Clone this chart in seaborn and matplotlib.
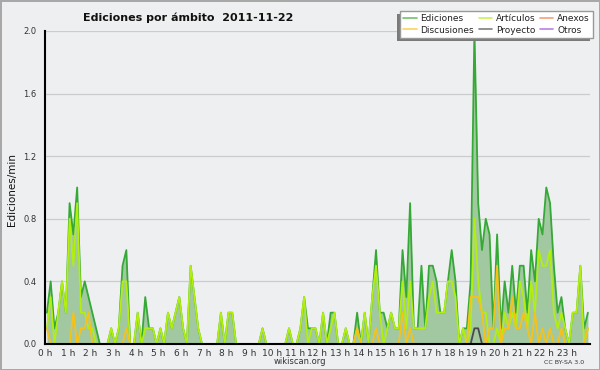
import numpy as np
import pandas as pd
import matplotlib
matplotlib.use("Agg")
import matplotlib.pyplot as plt
import seaborn as sns
from matplotlib.lines import Line2D
from matplotlib.patches import Rectangle
from matplotlib.ticker import MultipleLocator

# ediciones por minuto, bloques de 10 minutos (6 por hora)
ediciones = [
    0.2, 0.4, 0.1, 0.2, 0.4, 0.2,   # 0 h
    0.9, 0.7, 1.0, 0.3, 0.4, 0.3,   # 1 h
    0.2, 0.1, 0.0, 0.0, 0.0, 0.1,   # 2 h
    0.0, 0.1, 0.5, 0.6, 0.0, 0.0,   # 3 h
    0.2, 0.0, 0.3, 0.1, 0.1, 0.0,   # 4 h
    0.1, 0.0, 0.2, 0.1, 0.2, 0.3,   # 5 h
    0.1, 0.0, 0.5, 0.3, 0.1, 0.0,   # 6 h
    0.0, 0.0, 0.0, 0.0, 0.2, 0.0,   # 7 h
    0.2, 0.2, 0.0, 0.0, 0.0, 0.0,   # 8 h
    0.0, 0.0, 0.0, 0.1, 0.0, 0.0,   # 9 h
    0.0, 0.0, 0.0, 0.0, 0.1, 0.0,   # 10 h
    0.0, 0.1, 0.3, 0.1, 0.1, 0.1,   # 11 h
    0.0, 0.2, 0.0, 0.2, 0.2, 0.0,   # 12 h
    0.0, 0.1, 0.0, 0.0, 0.2, 0.0,   # 13 h
    0.2, 0.0, 0.3, 0.6, 0.2, 0.2,   # 14 h
    0.1, 0.2, 0.1, 0.1, 0.6, 0.3,   # 15 h
    0.9, 0.1, 0.1, 0.5, 0.1, 0.5,   # 16 h
    0.5, 0.4, 0.2, 0.2, 0.4, 0.6,   # 17 h
    0.4, 0.0, 0.1, 0.1, 0.4, 2.0,   # 18 h
    0.9, 0.6, 0.8, 0.7, 0.1, 0.7,   # 19 h
    0.1, 0.4, 0.2, 0.5, 0.2, 0.5,   # 20 h
    0.5, 0.2, 0.6, 0.4, 0.8, 0.7,   # 21 h
    1.0, 0.9, 0.5, 0.2, 0.3, 0.1,   # 22 h
    0.0, 0.2, 0.2, 0.5, 0.1, 0.2,   # 23 h
]
articulos = [
    0.1, 0.3, 0.0, 0.2, 0.4, 0.2,
    0.8, 0.5, 0.9, 0.2, 0.2, 0.1,
    0.1, 0.0, 0.0, 0.0, 0.0, 0.1,
    0.0, 0.1, 0.4, 0.4, 0.0, 0.0,
    0.2, 0.0, 0.1, 0.1, 0.1, 0.0,
    0.1, 0.0, 0.2, 0.1, 0.2, 0.3,
    0.1, 0.0, 0.5, 0.3, 0.1, 0.0,
    0.0, 0.0, 0.0, 0.0, 0.2, 0.0,
    0.2, 0.2, 0.0, 0.0, 0.0, 0.0,
    0.0, 0.0, 0.0, 0.1, 0.0, 0.0,
    0.0, 0.0, 0.0, 0.0, 0.1, 0.0,
    0.0, 0.1, 0.3, 0.0, 0.1, 0.1,
    0.0, 0.2, 0.0, 0.1, 0.2, 0.0,
    0.0, 0.1, 0.0, 0.0, 0.1, 0.0,
    0.2, 0.0, 0.3, 0.5, 0.2, 0.0,
    0.1, 0.2, 0.1, 0.1, 0.4, 0.1,
    0.4, 0.1, 0.1, 0.1, 0.1, 0.3,
    0.4, 0.2, 0.2, 0.2, 0.4, 0.4,
    0.3, 0.0, 0.1, 0.0, 0.1, 0.8,
    0.4, 0.2, 0.2, 0.0, 0.0, 0.1,
    0.0, 0.2, 0.1, 0.2, 0.1, 0.4,
    0.3, 0.1, 0.4, 0.2, 0.6, 0.5,
    0.5, 0.6, 0.2, 0.1, 0.2, 0.1,
    0.0, 0.2, 0.2, 0.5, 0.0, 0.1,
]
discusiones = [
    0.1, 0.0, 0.0, 0.0, 0.0, 0.0,
    0.0, 0.2, 0.0, 0.1, 0.1, 0.2,
    0.0, 0.0, 0.0, 0.0, 0.0, 0.0,
    0.0, 0.0, 0.0, 0.1, 0.0, 0.0,
    0.0, 0.0, 0.0, 0.0, 0.0, 0.0,
    0.0, 0.0, 0.0, 0.0, 0.0, 0.0,
    0.0, 0.0, 0.0, 0.0, 0.0, 0.0,
    0.0, 0.0, 0.0, 0.0, 0.0, 0.0,
    0.0, 0.0, 0.0, 0.0, 0.0, 0.0,
    0.0, 0.0, 0.0, 0.0, 0.0, 0.0,
    0.0, 0.0, 0.0, 0.0, 0.0, 0.0,
    0.0, 0.0, 0.0, 0.0, 0.0, 0.0,
    0.0, 0.0, 0.0, 0.0, 0.0, 0.0,
    0.0, 0.0, 0.0, 0.0, 0.1, 0.0,
    0.0, 0.0, 0.0, 0.1, 0.0, 0.0,
    0.0, 0.0, 0.0, 0.0, 0.2, 0.0,
    0.1, 0.0, 0.0, 0.0, 0.0, 0.0,
    0.0, 0.0, 0.0, 0.0, 0.0, 0.0,
    0.0, 0.0, 0.0, 0.0, 0.3, 0.3,
    0.3, 0.2, 0.0, 0.1, 0.1, 0.5,
    0.0, 0.1, 0.1, 0.3, 0.1, 0.1,
    0.2, 0.1, 0.0, 0.2, 0.0, 0.1,
    0.0, 0.1, 0.0, 0.0, 0.1, 0.0,
    0.0, 0.0, 0.0, 0.0, 0.0, 0.1,
]
proyecto = [0.0] * 113 + [0.1, 0.1] + [0.0] * 29
anexos = [0.0] * 144
otros = [0.0] * 144

series = {
    "Ediciones": ediciones,
    "Artículos": articulos,
    "Anexos": anexos,
    "Discusiones": discusiones,
    "Proyecto": proyecto,
    "Otros": otros,
}
colores = {
    "Ediciones": "#35a935",
    "Artículos": "#b2ee10",
    "Anexos": "#f07848",
    "Discusiones": "#f5c21b",
    "Proyecto": "#4a4a4a",
    "Otros": "#9b4be0",
}
orden_dibujo = ["Anexos", "Otros", "Ediciones", "Artículos", "Discusiones", "Proyecto"]
orden_leyenda = ["Ediciones", "Discusiones", "Artículos", "Proyecto", "Anexos", "Otros"]

# posicion de cada bloque de 10 min, en horas
hora = (np.arange(144) + 0.5) / 6

df = pd.DataFrame({
    "hora": np.tile(hora, len(series)),
    "valor": np.concatenate([series[k] for k in series]),
    "ambito": np.repeat(list(series.keys()), 144),
})

sns.set_theme(style="white")
plt.rcParams["font.family"] = ["DejaVu Sans"]

fondo = "#eeeff0"
fig = plt.figure(figsize=(6, 3.7), dpi=100, facecolor=fondo)
fig.patch.set_edgecolor("#a8a8a8")
fig.patch.set_linewidth(2)
ax = fig.add_axes([0.075, 0.0703, 0.908, 0.846])
ax.set_facecolor(fondo)

ax.fill_between(hora, ediciones, color="#a2c8a2", lw=0, zorder=1)
sns.lineplot(data=df, x="hora", y="valor", hue="ambito", hue_order=orden_dibujo,
             palette=colores, linewidth=1.3, estimator=None, errorbar=None,
             legend=False, ax=ax)

ax.set_xlim(0, 24)
ax.set_ylim(0, 2.0)
ax.yaxis.set_major_locator(MultipleLocator(0.4))
ax.yaxis.set_minor_locator(MultipleLocator(0.1))
ax.set_yticklabels([f"{v:.1f}" for v in ax.get_yticks()])
ax.set_xticks(range(24))
ax.set_xticklabels([f"{h} h" for h in range(24)])
ax.xaxis.set_minor_locator(MultipleLocator(1 / 6))
ax.grid(axis="y", which="major", color="#cccccc", lw=0.9, zorder=0)
ax.set_axisbelow(True)
ax.tick_params(axis="y", which="major", direction="out", length=5, width=1,
               labelsize=6, pad=1, color="black", labelcolor="#333333")
ax.tick_params(axis="y", which="minor", direction="out", length=2.5, width=0.8, color="black")
ax.tick_params(axis="x", which="major", direction="out", length=3, width=1,
               labelsize=6.5, pad=0.5, color="black", labelcolor="#333333")
ax.tick_params(axis="x", which="minor", direction="out", length=2.5, width=0.8, color="black")
ax.set_xlabel("")
ax.set_ylabel("")
sns.despine(ax=ax)
for s in ["left", "bottom"]:
    ax.spines[s].set_color("black")
    ax.spines[s].set_linewidth(1.5)
    ax.spines[s].set_zorder(3)

fig.text(0.313, 0.952, "Ediciones por ámbito  2011-11-22", ha="center", va="center",
         fontsize=8, fontweight="bold", color="#111111")
fig.text(0.02, 0.487, "Ediciones/min", rotation=90, ha="center", va="center",
         fontsize=7.5, color="#111111")
fig.text(0.5, 0.024, "wikiscan.org", ha="center", va="center", fontsize=6, color="#333333")
fig.text(0.94, 0.021, "CC BY-SA 3.0", ha="center", va="center", fontsize=4.5, color="#333333")

handles = [Line2D([], [], color=colores[k], lw=1.2, alpha=0.7) for k in orden_leyenda]
leg = fig.legend(handles, orden_leyenda, ncol=3, loc="upper right", bbox_to_anchor=(0.988, 0.97),
                 borderaxespad=0, frameon=True, fancybox=False, framealpha=1, edgecolor="#999999",
                 fontsize=6.5, handlelength=1.5, handletextpad=0.4, columnspacing=0.5,
                 labelspacing=0.25, borderpad=0.35, labelcolor="#222222")
leg.set_zorder(6)

# sombra de la leyenda, desplazada abajo a la izquierda
fig.canvas.draw()
bb = leg.get_window_extent().transformed(fig.transFigure.inverted())
dx, dy = 3 / 600, 3 / 370
fig.patches.append(Rectangle((bb.x0 - dx, bb.y0 - dy), bb.width, bb.height,
                             transform=fig.transFigure, facecolor="#7a7a7a",
                             edgecolor="none", zorder=5))

fig.savefig("out.png", dpi=100, facecolor=fig.get_facecolor(), edgecolor=fig.get_edgecolor())
